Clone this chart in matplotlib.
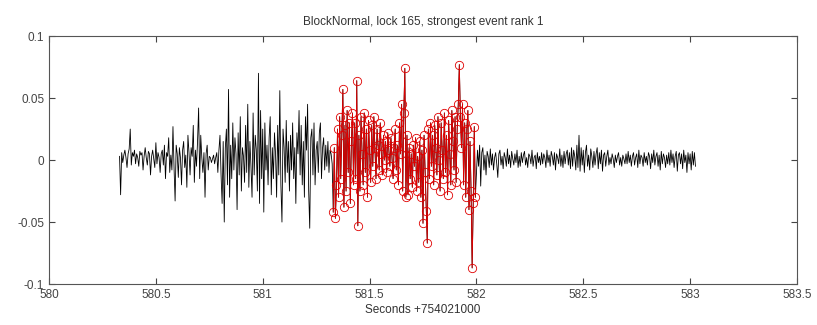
import numpy as np
import matplotlib
matplotlib.use('Agg')
import matplotlib.pyplot as plt

plt.rcParams['font.family'] = ['Liberation Sans', 'DejaVu Sans']

# signal sampled at a fixed rate, values in thousandths
fs = 200.0
t_start = 580.33

pre = [3, -28, 6, -2, 4, 8, 2, -6, 5, 9, 25, -4, 6, 3, 8, -3, 5, 2, -5, 7,
       4, 6, -8, 3, 10, 2, -4, 7, 5, -12, 3, 8, 1, -6, 14, -3, 6, 2, -10, 5,
       8, -4, 12, -15, 6, 3, 18, -10, 4, -8, 27, -6, -33, 12, 5, -14, 10, 2, -20, 8,
       15, -6, 4, -22, 20, 6, -12, 10, 3, 28, -18, 8, -5, 15, 42, -15, 20, 2, -10, 6,
       -30, 5, 12, -8, 3, 2, -2, 1, 4, -3, 2, 6, -10, 8, 20, -12, -35, 15, -50, 10,
       25, -20, 57, -30, 12, -15, 30, -8, 18, 5, -40, 22, -12, 35, -25, 10, 3, -18, 28, -10,
       45, -22, 15, -5, -30, 38, -12, 20, 8, -25, 70, -35, 40, -15, 25, -42, 30, -8, 12, -20,
       18, 35, -28, 10, -15, 22, 5, -30, 28, -12, 56, -20, -50, 25, 10, -18, 32, -10, 15, -25,
       20, -8, 30, -15, 10, -35, 22, 5, 40, -12, 28, -20, 15, -30, 35, 8, 45, -25, -55, 18,
       25, -12, 30, -20, 8, 15, -10, 22, 30, -15, 10, 18, -8, 12, -5, 15, -10, 8, 5, -3]

event = [-42, 10, -47, -20, 25, -30, 35, -15, 20, 57, -38, 28, -25, 40, -10, 30, -35, 15, 38, -20,
         30, -15, 64, -53, 20, -25, 35, 5, -20, 38, -10, 25, -30, 32, 8, -18, 28, -5, 35, 10,
         -15, 25, 12, -8, 30, 5, -12, 20, 0, 15, -10, 22, 8, -5, 18, 2, -15, 10, 25, -8,
         12, -20, 30, 5, 45, -25, 38, 74, -30, 20, -28, 10, -15, 5, -22, 12, -5, 18, -25, 3,
         -18, 15, -30, 8, -51, 20, -10, -41, -67, 25, -15, 30, -5, 20, -20, 28, 10, -12, 35, 0,
         -25, 30, 8, -15, 38, -10, 20, -28, 32, 5, -20, 40, 15, -8, 35, -18, 25, 45, 77, 35,
         10, 45, -20, 30, -30, 25, 40, -40, 15, -25, -87, -35, 27, -30]

post = [-10, 8, -5, 12, -21, 6, 10, -8, 4, -12, 7, 3, -6, 9, -4, 5, -8, 2, 6, -3,
        -14, 5, 8, -4, 3, -7, 6, 2, -5, 9, -3, 4, -6, 7, 1, -4, 5, -2, 8, -6,
        3, -5, 6, -2, 4, 7, -4, 2, -6, 5, 3, -3, 8, -5, 2, 4, -7, 6, -2, 3,
        -4, 6, -3, 5, 2, -6, 8, -2, 4, -5, 7, 3, -4, 6, -8, 5, 2, -3, 9, -5,
        4, -6, 7, -3, 5, 8, -4, 6, -7, 10, -5, 8, 3, -8, 12, -6, 20, -9, 10, -4,
        8, -10, 6, 12, -5, 4, -8, 9, 3, -6, 7, -4, 5, 10, -7, 6, -3, 8, -9, 4,
        6, -5, 3, 8, -4, 2, -3, 5, 1, -6, 4, -2, 3, 6, -4, 2, -5, 4, 1, -3,
        5, -3, 7, -2, 4, -5, 3, 6, -4, 2, 5, -6, 8, -3, 4, 2, -5, 6, -2, 3,
        -4, 6, 3, -7, 5, -2, 8, -4, 3, 6, -5, 4, -8, 7, -3, 5, 2, -6, 4, -3,
        6, -4, 8, -2, 5, -6, 3, 7, -9, 4, 6, -3, 5, -7, 8, -2, 4, -10, 6, -3,
        5, -8, 7, -4, 6, -5]

xticks = [580, 580.5, 581, 581.5, 582, 582.5, 583, 583.5]
xticklabels = ['580', '580.5', '581', '581.5', '582', '582.5', '583', '583.5']
yticks = [-0.1, -0.05, 0, 0.05, 0.1]
yticklabels = ['-0.1', '-0.05', '0', '0.05', '0.1']

signal = np.array(pre + event + post) / 1000.0
t = t_start + np.arange(len(signal)) / fs
i0 = len(pre)
i1 = len(pre) + len(event)

fig = plt.figure(figsize=(8.17, 3.25), dpi=100)
ax = fig.add_axes([0.06, 0.126, 0.9155, 0.763])

ax.plot(t, signal, color='black', linewidth=0.6)
ax.plot(t[i0:i1], signal[i0:i1], color='#e00000', linewidth=0.6,
        marker='o', markersize=6, markerfacecolor='none', markeredgewidth=0.6)

ax.set_xlim(580, 583.5)
ax.set_ylim(-0.1, 0.1)
ax.set_xticks(xticks)
ax.set_xticklabels(xticklabels)
ax.set_yticks(yticks)
ax.set_yticklabels(yticklabels)
ax.tick_params(direction='in', top=True, right=True, labelsize=8.5,
               colors='#444444', length=4, width=0.8)
for s in ax.spines.values():
    s.set_color('#555555')
    s.set_linewidth(0.8)

ax.set_title('BlockNormal, lock 165, strongest event rank 1', fontsize=8.5,
             color='#333333', pad=8)
ax.set_xlabel('Seconds +754021000', fontsize=8.5, color='#333333', labelpad=2)

fig.savefig('out.png', dpi=100)
